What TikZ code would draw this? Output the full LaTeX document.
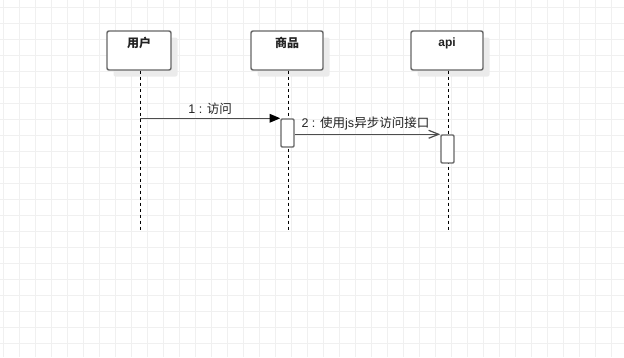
\documentclass[tikz,border=0pt]{standalone}
\usepackage{fontspec}
\setmainfont{Liberation Sans}
\newfontfamily\cjk{Noto Sans CJK SC}
\usepackage{tikz}
\usetikzlibrary{arrows.meta,positioning,calc,shadows}
\definecolor{SeqGrid}{HTML}{F0F0F0}
\definecolor{SeqBorder}{HTML}{666666}
\definecolor{SeqShadow}{HTML}{EBEBEB}
\definecolor{SeqLine}{HTML}{4D4D4D}
\definecolor{SeqText}{HTML}{222222}

\begin{document}
\begin{tikzpicture}[x=0.75pt,y=-0.75pt,
  gridline/.style={draw=SeqGrid,line width=0.75pt},
  actor/.style={draw=SeqBorder,line width=1.1pt,rounded corners=1.5pt,fill=white,minimum width=54pt,minimum height=29.25pt,inner sep=0pt,
    drop shadow={shadow xshift=4.9pt,shadow yshift=-4.9pt,fill=SeqShadow,opacity=1}},
  title/.style={font=\fontsize{9}{11}\selectfont\bfseries,text=SeqText,inner sep=0pt},
  lifeline/.style={draw=black,line width=0.75pt,dash pattern=on 2.25pt off 2.25pt},
  activation/.style={draw=SeqBorder,line width=1.1pt,rounded corners=0.8pt,fill=white,minimum width=9.75pt,minimum height=21pt,inner sep=0pt},
  call/.style={draw=SeqLine,line width=0.9pt,-{Triangle[length=8pt,width=6.5pt,color=black]}},
  async/.style={draw=SeqLine,line width=0.9pt,-{Straight Barb[length=7.5pt,width=6pt]}},
  msg/.style={font=\fontsize{9.4}{11}\selectfont,text=SeqText,inner sep=2.5pt}
]
\useasboundingbox (0,0) rectangle (624,357);
% background grid
\foreach \gx in {0,...,38} \draw[gridline] (3.5+16*\gx,0) -- (3.5+16*\gx,357);
\foreach \gy in {0,...,21} \draw[gridline] (0,7.5+16*\gy) -- (624,7.5+16*\gy);

% participants
\node[actor,minimum width=48pt] (user) at (139,50.5) {};
\node[actor] (goods) at (287,50.5) {};
\node[actor] (api) at (447,50.5) {};
\node[title] (userlbl) at ($(user.north)+(0,13)$) {\cjk 用户};
\node[title] (goodslbl) at ($(goods.north)+(0,13)$) {\cjk 商品};
\node[title] (apilbl) at ($(api.north)+(0,13)$) {api};

% lifelines
\coordinate (userend) at (140,230);
\coordinate (goodsend) at (288,230);
\coordinate (apiend) at (448,230);
\draw[lifeline] (user.south -| userend) -- (userend);
\draw[lifeline] (goods.south -| goodsend) -- (goodsend);
\draw[lifeline] (api.south -| apiend) -- (apiend);

% activations
\node[activation] (act1) at (287.5,133) {};
\node[activation] (act2) at (447.5,149) {};

% messages
\coordinate (m1) at (userend |- act1.north);
\draw[call] (m1) -- (act1.north west) node[msg,midway,above] (msg1) {1 : {\cjk 访问}};
\draw[async] (act1.east |- act2.north) -- (act2.north west) node[msg,midway,above,xshift=-1.5] (msg2) {2 : {\cjk 使用}js{\cjk 异步访问接口}};
\end{tikzpicture}
\end{document}
